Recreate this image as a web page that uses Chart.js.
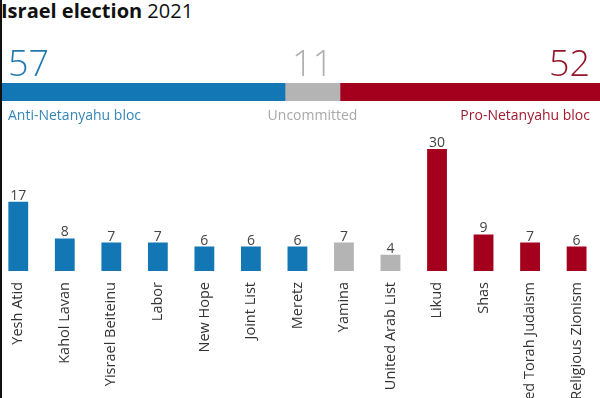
<!DOCTYPE html>
<html>
<head>
<meta charset="utf-8">
<script src="https://cdn.jsdelivr.net/npm/chart.js@4"></script>
<style>
  html, body { margin: 0; padding: 0; }
  body { width: 600px; height: 398px; overflow: hidden; position: relative; background: #fff; font-family: "Open Sans", sans-serif; }
  .title { position: absolute; left: 1px; top: -3px; font-size: 20px; color: #111; white-space: nowrap; }
  .title b { font-weight: 700; }
  #blocChart { position: absolute; left: 0; top: 40px; }
  #partyChart { position: absolute; left: -5px; top: 125px; }
  .edge { position: absolute; left: 0; top: 0; width: 2px; height: 398px; background: #111; }
</style>
</head>
<body>
<div class="title"><b>Israel election</b> 2021</div>
<canvas id="blocChart" width="600" height="90"></canvas>
<canvas id="partyChart" width="610" height="273"></canvas>
<div class="edge"></div>
<script>
"use strict";

// DATA
const blocNames = ["Anti-Netanyahu bloc", "Uncommitted", "Pro-Netanyahu bloc"];
const blocSeats = [57, 11, 52];
const blocColors = ["#1477b5", "#b4b4b4", "#a4001e"];
const blocNumColors = ["#1f78b0", "#b0b0b0", "#921528"];
const blocTextColors = ["#3585b8", "#a8a8a8", "#a01a2e"];

const parties = ["Yesh Atid", "Kahol Lavan", "Yisrael Beiteinu", "Labor", "New Hope", "Joint List", "Meretz",
  "Yamina", "United Arab List", "Likud", "Shas", "United Torah Judaism", "Religious Zionism"];
const seats = [17, 8, 7, 7, 6, 6, 6, 7, 4, 30, 9, 7, 6];
const partyBloc = [0, 0, 0, 0, 0, 0, 0, 1, 1, 2, 2, 2, 2];

const FONT = "'Open Sans', sans-serif";

// BLOC BAR (stacked, horizontal)
const blocLabels = {
  id: "blocLabels",
  afterDatasetsDraw(chart) {
    const c = chart.ctx;
    c.save();
    chart.data.datasets.forEach((ds, i) => {
      const bar = chart.getDatasetMeta(i).data[0];
      const left = Math.min(bar.base, bar.x);
      const right = Math.max(bar.base, bar.x);
      let x, align;
      if (i === 0) { x = left + 8; align = "left"; }
      else if (i === chart.data.datasets.length - 1) { x = right - 10; align = "right"; }
      else { x = (left + right) / 2; align = "center"; }
      c.textAlign = align;
      c.textBaseline = "alphabetic";
      c.font = "300 36px " + FONT;
      c.fillStyle = blocNumColors[i];
      c.fillText(String(blocSeats[i]), x, 36);
      c.textBaseline = "middle";
      c.font = "14px " + FONT;
      c.fillStyle = blocTextColors[i];
      c.fillText(blocNames[i], x, 76);
    });
    c.restore();
  },
};

new Chart(document.getElementById("blocChart"), {
  type: "bar",
  data: {
    labels: ["seats"],
    datasets: blocNames.map((name, i) => ({
      label: name,
      data: [blocSeats[i]],
      backgroundColor: blocColors[i],
      borderWidth: 0,
      barPercentage: 1,
      categoryPercentage: 1,
    })),
  },
  options: {
    indexAxis: "y",
    responsive: false,
    animation: false,
    devicePixelRatio: 1,
    layout: { padding: { top: 43, bottom: 29, left: 0, right: 0 } },
    plugins: { legend: { display: false }, tooltip: { enabled: false } },
    scales: {
      x: { stacked: true, min: 0, max: 120, display: false },
      y: { stacked: true, display: false },
    },
  },
  plugins: [blocLabels],
});

// PARTY BARS
const valueLabels = {
  id: "valueLabels",
  afterDatasetsDraw(chart) {
    const c = chart.ctx;
    c.save();
    c.font = "14px " + FONT;
    c.fillStyle = "#444";
    c.textAlign = "center";
    c.textBaseline = "alphabetic";
    chart.getDatasetMeta(0).data.forEach((bar, i) => {
      c.fillText(String(seats[i]), bar.x, bar.y - 2);
    });
    c.restore();
  },
};

new Chart(document.getElementById("partyChart"), {
  type: "bar",
  data: {
    labels: parties,
    datasets: [
      {
        data: seats,
        backgroundColor: partyBloc.map((b) => blocColors[b]),
        borderWidth: 0,
        barPercentage: 0.426,
        categoryPercentage: 1,
      },
    ],
  },
  options: {
    responsive: false,
    animation: false,
    devicePixelRatio: 1,
    layout: { padding: { top: 24, bottom: 0, left: 0, right: 0 } },
    plugins: { legend: { display: false }, tooltip: { enabled: false } },
    scales: {
      y: { display: false, min: 0, max: 30 },
      x: {
        grid: { display: false, drawTicks: false },
        border: { display: false },
        ticks: {
          autoSkip: false,
          minRotation: 90,
          maxRotation: 90,
          padding: 11,
          color: "#333",
          font: { family: FONT, size: 14.5 },
        },
        afterFit: (scale) => { scale.height = 127; },
      },
    },
  },
  plugins: [valueLabels],
});
</script>
</body>
</html>
